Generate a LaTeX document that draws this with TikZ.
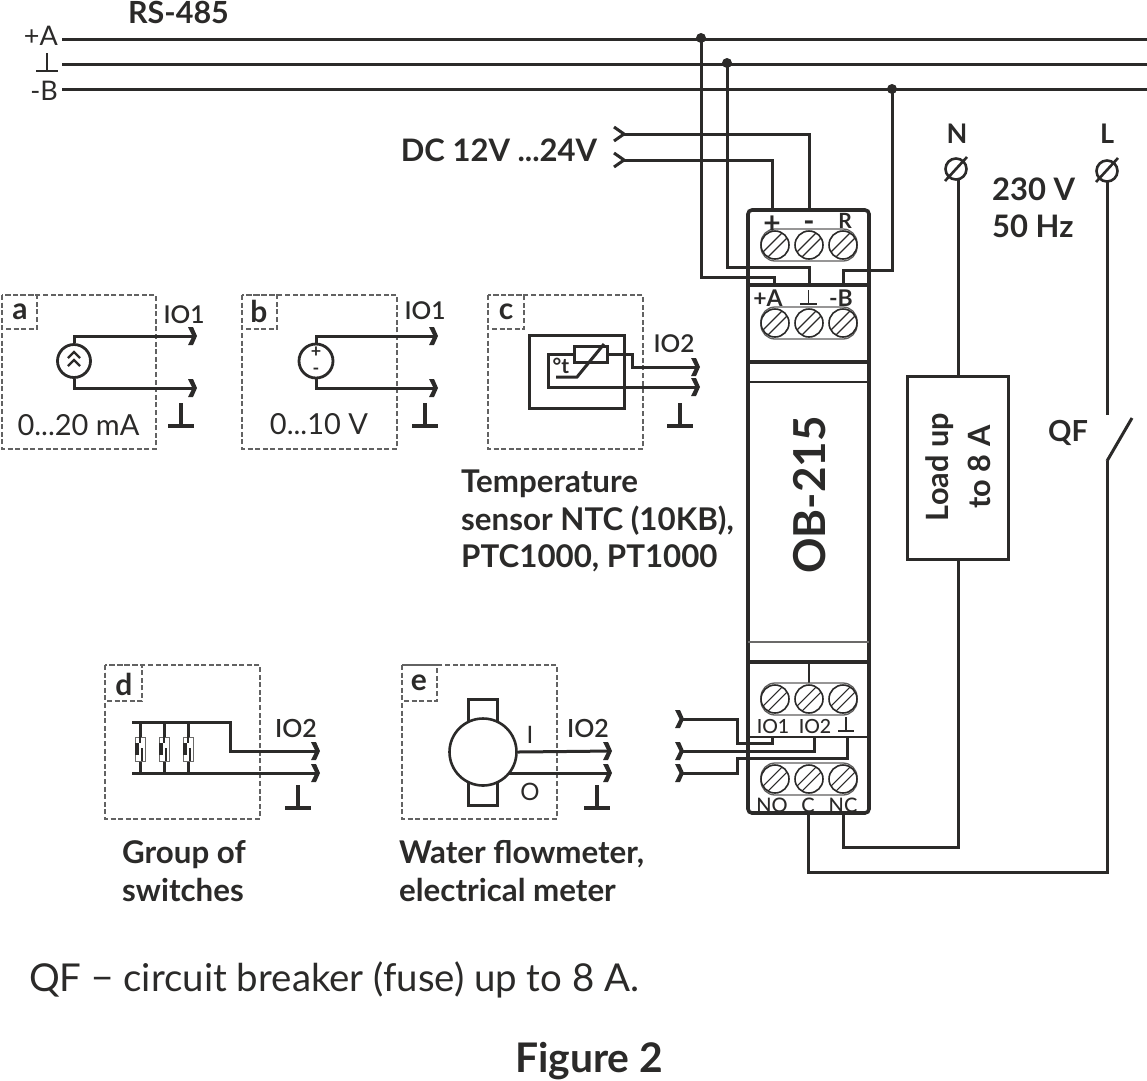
\documentclass[tikz,border=0pt]{standalone}
\usepackage{fontspec}
\setmainfont{Lato}
\newfontfamily\semi{Lato Semibold}
\newfontfamily\med{Lato Medium}
\usetikzlibrary{arrows.meta,calc}
\newcommand\fz[1]{\fontsize{#1}{#1}\selectfont}
\definecolor{ink}{HTML}{2B2A29}
\definecolor{dashgray}{HTML}{626262}
\tikzset{
 wire/.style={draw=ink,line width=3pt,line cap=butt,line join=miter},
 thick wire/.style={draw=ink,line width=3.6pt},
 thin wire/.style={draw=ink!75,line width=1.3pt},
 tipped/.style={wire,shorten >=3pt},
 dcinlet/.style={wire,{Straight Barb[reversed,length=10pt,width=14pt,line width=3pt]}-},
 panel/.style={draw=dashgray,line width=2pt,dash pattern=on 5pt off 2.6pt},
 lab/.style={inner sep=0pt,text=ink},
 reg/.style={lab,font=\fz{#1}},
 mdm/.style={lab,font=\med\fz{#1}},
 sbd/.style={lab,font=\semi\fz{#1}},
 bld/.style={lab,font=\bfseries\fz{#1}},
 screw/.style={circle,draw=ink,line width=1.6pt,minimum size=28pt,inner sep=0pt,fill=white,
   path picture={
     \draw[ink,line width=1.1pt] ($(path picture bounding box.center)+(-16.5pt,-11.5pt)$) -- ++(28pt,28pt);
     \draw[ink,line width=1.1pt] ($(path picture bounding box.center)+(-11.5pt,-16.5pt)$) -- ++(28pt,28pt);}},
 gnd/.pic={\draw[wire,line width=3.2pt] (-13,0)--(13,0) (0,0)--(0,-23);},
 chev/.pic={\fill[ink] (-9,-9)--(-4,-9)--(0,0)--(-4,9)--(-9,9)--(-4.5,0)--cycle;},
 cutout/.pic={\draw[draw=ink!70,line width=1pt,fill=white] (-5,-12) rectangle (5,12);
   \fill[ink] (-5,-6) rectangle (-1,6);
   \draw[wire,line width=2pt] (0,-12)--(0,-6) (1.5,-1)--(1.5,12);},
}
\begin{document}
\begin{tikzpicture}[x=1pt,y=-1pt]
\useasboundingbox (0,0) rectangle (1147,1080);
% ---------- coordinates
\coordinate (busAl) at (62,39); \coordinate (busAr) at (1147,39);
\coordinate (busGl) at (62,64); \coordinate (busGr) at (1147,64);
\coordinate (busBl) at (62,89); \coordinate (busBr) at (1147,89);
\coordinate (tapA) at (701,38); \coordinate (tapG) at (727,63); \coordinate (tapB) at (892,89);
\coordinate (inP) at (612.5,160); \coordinate (inN) at (612.5,134);
\coordinate (termP) at (772,210); \coordinate (termN) at (809,210);
\coordinate (entA) at (774,285); \coordinate (entG) at (809,285); \coordinate (entB) at (843,285);
\coordinate (io1t) at (772,737); \coordinate (io2t) at (814,737); \coordinate (gndt) at (847,737);
\coordinate (in1) at (680,719); \coordinate (in2) at (680,751); \coordinate (in3) at (680,773);
% ---------- RS-485 bus
\draw[wire] (busAl)--(busAr);
\draw[wire] (busGl)--(busGr);
\draw[wire] (busBl)--(busBr);
\node[bld=30.5] (rs) at (178.5,12) {RS-485};
\node[reg=27,anchor=east] (lA) at (58,36) {+A};
\node[reg=27,anchor=east] (lB) at (58,91) {-B};
\draw[wire,line width=2pt] (36,71)--(58,71) (47,71)--(47,53);
% ---------- device
\draw[thick wire,rounded corners=4pt,fill=white] (748,210) rectangle (869,813);
\draw[thick wire] (748,285)--(869,285);
\draw[thick wire] (748,362)--(869,362);
\draw[wire,line width=1.6pt] (748,382)--(869,382);
\draw[draw=ink!70,line width=1.4pt] (748,642)--(869,642);
\draw[thick wire] (748,662)--(869,662);
\draw[wire,line width=2pt] (748,737)--(869,737);
\draw[wire,line width=2pt] (809,662)--(809,683);
\node[bld=44,rotate=90] (ob) at (810,495) {OB-215};
% terminal strips
\draw[thin wire,rounded corners=14pt] (761,229) rectangle (857,261);
\draw[thin wire,rounded corners=14pt] (761,307) rectangle (857,339);
\draw[thin wire,rounded corners=14pt] (761,683) rectangle (857,715);
\draw[thin wire,rounded corners=14pt] (761,763) rectangle (857,795);
\foreach \r/\y in {a/245,b/323,c/699,d/779}{
  \node[screw] (s\r1) at (775,\y) {};
  \node[screw] (s\r2) at (809,\y) {};
  \node[screw] (s\r3) at (843,\y) {};
}
\node[bld=30] (tp) at (772,225) {+};
\node[bld=30] (tm) at (809,226) {-};
\node[bld=21] (tr) at (845,221) {R};
\node[bld=23] (ta) at (768,298) {+A};
\node[bld=23] (tb) at (841,298) {-B};
\draw[wire,line width=1.3pt] (800,304)--(817,304) (808.5,304)--(808.5,290);
\node[mdm=19.5] (t1) at (773,726) {IO1};
\node[mdm=19.5] (t2) at (815,726) {IO2};
\draw[wire,line width=1.6pt] (838,731)--(854,731) (846,731)--(846,717);
\node[mdm=20] (tno) at (772,805) {NO};
\node[mdm=20] (tc) at (808,805) {C};
\node[mdm=20] (tnc) at (843,805) {NC};
% ---------- bus to device
\draw[wire] (tapA) -- (701,277) -| (entA);
\draw[wire] (tapG) -- (727,267) -| (entG);
\draw[wire] (tapB) -- (892,270) -| (entB);
\fill[ink] (tapA) circle (5); \fill[ink] (tapG) circle (5); \fill[ink] (tapB) circle (5);
% ---------- supply
\draw[dcinlet] (inN) -| (termN);
\draw[dcinlet] (inP) -| (termP);
\node[bld=31] (dc) at (499,150) {DC 12V ...24V};
% ---------- IO wires
\draw[wire] (in1) -- (737,719) |- (772,743) -- (io1t);
\draw[wire] (in2) -| (io2t);
\draw[wire] (in3) -- (737,773) |- (847,758) -- (gndt);
\pic at (684,719) {chev};
\pic at (684,751) {chev};
\pic at (684,773) {chev};
% ---------- mains
\coordinate (nterm) at (956,169); \coordinate (lterm) at (1107,171);
\node[bld=27] (N) at (957,134) {N};
\node[bld=27] (L) at (1107,134) {L};
\node[bld=31,anchor=west] (v) at (992,189) {230 V};
\node[bld=31,anchor=west] (hz) at (992,226) {50 Hz};
\draw[wire,line width=2.6pt] (nterm) circle (10.5);
\draw[wire,line width=2.6pt] (945,181)--(967,157);
\draw[wire,line width=2.6pt] (lterm) circle (10.5);
\draw[wire,line width=2.6pt] (1096,182)--(1118,158);
\node[draw=ink,line width=3pt,minimum width=101pt,minimum height=183pt,inner sep=0pt] (load) at (957.5,467.5) {};
\node[rotate=90,align=center,lab,font=\bfseries\fontsize{30.7}{42}\selectfont] (loadt) at (958,467) {Load up\\to 8 A};
\draw[wire] (958,180) -- (load.north -| 958,0);
\draw[wire] (958,559) |- (843,847) -- (843,813);
\draw[wire] (1107,182) -- (1107,415);
\draw[wire] (1107,461) -- (1132,418);
\draw[wire] (1107,461) |- (808,872) -- (808,813);
\node[bld=29] (qf) at (1068,433) {QF};
% ---------- panel a
\draw[panel] (2,295) rectangle (156,449);
\draw[panel] (2,295) rectangle (37,329);
\node[bld=30] (pa) at (20,312) {a};
\coordinate (a1) at (197,336); \coordinate (a2) at (197,388);
\node[circle,draw=ink,line width=2.8pt,minimum size=33pt,inner sep=0pt] (srcA) at (74,361) {};
\draw[tipped] (srcA.north) |- (a1);
\draw[tipped] (srcA.south) |- (a2);
\pic at (a1) {chev}; \pic at (a2) {chev};
\draw[wire,line width=2.2pt] (68,358)--(74,352)--(80,358) (68,366)--(74,360)--(80,366);
\node[sbd=24.5] (ia) at (184,314.5) {IO1};
\node[reg=29] (ra) at (78.5,425) {0...20 mA};
\pic at (181,426) {gnd};
% ---------- panel b
\draw[panel] (242,295) rectangle (397,449);
\draw[panel] (242,295) rectangle (277,329);
\node[bld=30] (pb) at (259,311) {b};
\coordinate (b1) at (438,336); \coordinate (b2) at (438,388);
\node[circle,draw=ink,line width=2.8pt,minimum size=34pt,inner sep=0pt] (srcB) at (316,361) {};
\draw[tipped] (srcB.north) |- (b1);
\draw[tipped] (srcB.south) |- (b2);
\pic at (b1) {chev}; \pic at (b2) {chev};
\node[bld=18] (bp) at (316,352) {+};
\node[bld=18] (bm) at (316,371) {-};
\node[sbd=24.5] (ib) at (425,311) {IO1};
\node[reg=29] (rb) at (319,424) {0...10 V};
\pic at (425,426) {gnd};
% ---------- panel c
\draw[panel] (488,295) rectangle (643,449);
\draw[panel] (488,295) rectangle (524,329);
\node[bld=30] (pc) at (506,312) {c};
\draw[wire] (529,335) rectangle (624,408);
\node[draw=ink,line width=2.4pt,minimum width=33pt,minimum height=16pt,inner sep=0pt] (rth) at (591,354.5) {};
\coordinate (c1) at (700,367); \coordinate (c2) at (700,387);
\draw[tipped] (rth.east) -- (632,354.5) |- (c1);
\draw[tipped] (rth.west) -- (548,354.5) |- (c2);
\pic at (c1) {chev}; \pic at (c2) {chev};
\draw[wire] (556,377) -- (577,377) -- (604,344);
\node[bld=21] (ct) at (561,366) {°t};
\node[sbd=24.5] (ic) at (674,344) {IO2};
\pic at (680,426) {gnd};
% ---------- panel d
\draw[panel] (105,665) rectangle (260,819);
\draw[panel] (105,665) rectangle (142,701);
\node[bld=30] (pd) at (124,684) {d};
\coordinate (d1) at (320,751); \coordinate (d2) at (320,773);
\coordinate (d0) at (132,722); \coordinate (d3) at (132,773);
\draw[tipped] (d0) -- (230,722) |- (d1);
\draw[tipped] (d3) -- (d2);
\pic at (d1) {chev}; \pic at (d2) {chev};
\foreach \x in {140,164,188}{
  \draw[wire] (\x,722)--(\x,773);
  \pic at (\x,749) {cutout};
}
\node[sbd=25] (id) at (296,728) {IO2};
\pic at (298,808) {gnd};
% ---------- panel e
\draw[panel] (402,665) rectangle (557,819);
\draw[panel] (402,665) rectangle (437,701);
\node[bld=30] (pe) at (419,683) {e};
\draw[wire] (468,725) |- (497,699) -- (497,725);
\draw[wire] (468,780) |- (497,805) -- (497,780);
\node[circle,draw=ink,line width=2.6pt,fill=white,minimum size=67pt,inner sep=0pt] (meter) at (483,752) {};
\coordinate (e1) at (612,751); \coordinate (e2) at (612,773);
\coordinate (meterO) at (508.5,773);
\draw[tipped] (meter.east) -- (e1);
\draw[tipped] (meterO) -- (e2);
\pic at (e1) {chev}; \pic at (e2) {chev};
\node[reg=24] (ei) at (530,735) {I};
\node[reg=24] (eo) at (530,792) {O};
\node[sbd=25] (ie) at (588,728) {IO2};
\pic at (597,808) {gnd};
% ---------- captions
\node[lab,font=\bfseries\fontsize{31.3}{37.5}\selectfont,anchor=west,align=left] (capc) at (461,521) {Temperature\\sensor NTC (10KB),\\PTC1000, PT1000};
\node[lab,font=\bfseries\fontsize{31.3}{38}\selectfont,anchor=west,align=left] (capd) at (122,871) {Group of\\switches};
\node[lab,font=\bfseries\fontsize{31.3}{38}\selectfont,anchor=west,align=left] (cape) at (399,871) {Water flowmeter,\\electrical meter};
\node[reg=38.4,anchor=west] (note) at (29,980) {QF − circuit breaker (fuse) up to 8 A.};
\node[bld=40.8] (fig) at (589,1061) {Figure 2};
\end{tikzpicture}
\end{document}
